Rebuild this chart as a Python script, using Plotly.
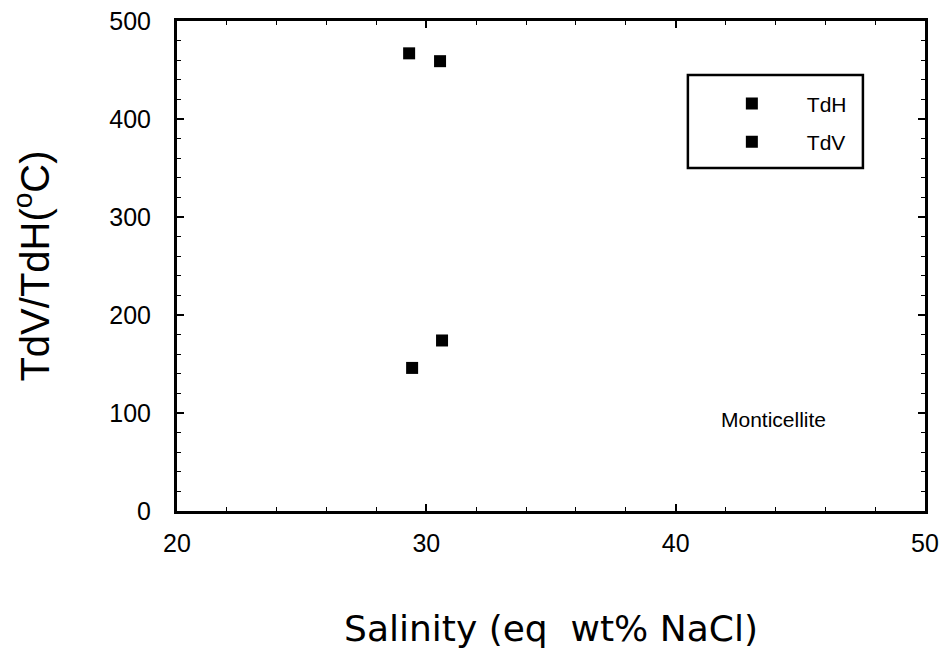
import plotly.graph_objects as go

tdh_x = [29.43, 30.63]
tdh_y = [146, 174]
tdv_x = [29.31, 30.55]
tdv_y = [467, 459]

x_ticks = [20, 30, 40, 50]
y_ticks = [0, 100, 200, 300, 400, 500]

FONT = "Liberation Sans, Arial, sans-serif"

fig = go.Figure()
fig.add_trace(go.Scatter(x=tdh_x, y=tdh_y, mode="markers", name="TdH", legendgroup="a",
                         marker=dict(symbol="square", size=12, color="black")))
fig.add_trace(go.Scatter(x=tdv_x, y=tdv_y, mode="markers", name="TdV", legendgroup="b",
                         marker=dict(symbol="square", size=12, color="black")))

axis_common = dict(showgrid=False, zeroline=False, showline=True, linecolor="black",
                   linewidth=3, mirror="allticks", ticks="inside", tickcolor="black",
                   ticklen=7, tickwidth=1.5,
                   tickfont=dict(family=FONT, size=25, color="black"))

fig.update_xaxes(range=[20, 50], tickvals=x_ticks, ticklabelstandoff=8,
                 minor=dict(dtick=2, ticks="inside", ticklen=4, tickcolor="black", tickwidth=1.2),
                 title=dict(text="Salinity (eq  wt% NaCl)",
                            font=dict(family="DejaVu Sans, sans-serif", size=36, color="black"),
                            standoff=60),
                 automargin=False,
                 **axis_common)
fig.update_yaxes(range=[0, 500], tickvals=y_ticks, ticklabelstandoff=18,
                 minor=dict(dtick=20, ticks="inside", ticklen=4, tickcolor="black", tickwidth=1.2),
                 title=dict(text="TdV/TdH(<sup>o</sup>C)",
                            font=dict(family=FONT, size=40, color="black"),
                            standoff=48),
                 automargin=False,
                 **axis_common)

fig.add_annotation(x=0.798, y=0.186, xref="paper", yref="paper", text="Monticellite",
                   xanchor="center", yanchor="middle",
                   showarrow=False, font=dict(family=FONT, size=21, color="black"))

# legend frame
fig.add_shape(type="rect", xref="paper", yref="paper", x0=0.683, x1=0.917, y0=0.700, y1=0.890,
              line=dict(color="black", width=2.5), fillcolor="white", layer="below")

fig.update_layout(
    width=944, height=653,
    margin=dict(l=177, r=19, t=21, b=142),
    plot_bgcolor="white", paper_bgcolor="white",
    legend=dict(x=0.695, y=0.873, xanchor="left", yanchor="top",
                borderwidth=0, bgcolor="rgba(0,0,0,0)",
                font=dict(family=FONT, size=21, color="black"),
                itemwidth=100, tracegroupgap=8, traceorder="grouped"),
)

fig.write_html("out.html", config={"displayModeBar": False},
               post_script="document.body.style.margin='0';document.body.style.overflow='hidden';")
